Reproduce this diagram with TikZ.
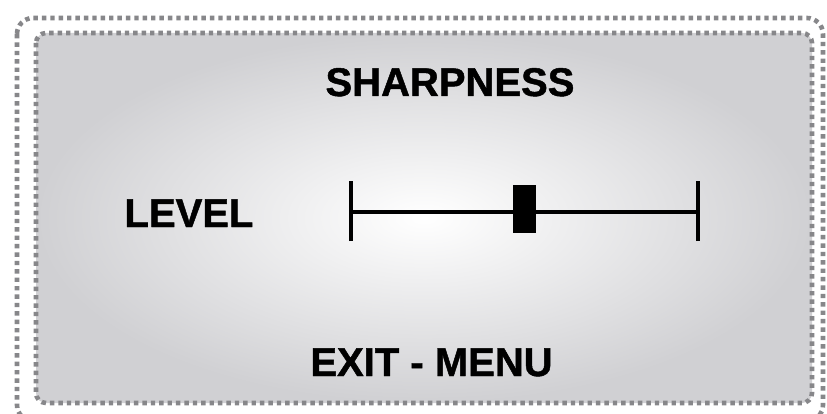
\documentclass[tikz,border=0pt]{standalone}
\usepackage{fontspec}
\setmainfont{Liberation Sans}[BoldFeatures={FakeBold=1.2}]
\begin{document}
\begin{tikzpicture}[x=1pt,y=-1pt,
  dotframe/.style={draw={rgb,255:red,135;green,135;blue,138}, line width=4.6pt, dash pattern=on 4.4pt off 4pt, line cap=butt},
  label/.style={font=\bfseries\fontsize{40}{44}\selectfont, inner sep=0pt, anchor=base},
  bar/.style={line width=3.6pt, black}]
\useasboundingbox (0,0) rectangle (827,414);
\fill[white] (0,0) rectangle (827,414);
\draw[dotframe, rounded corners=16pt] (17,18) rectangle (823,421);
\shade[inner color=white, outer color={rgb,255:red,208;green,208;blue,211}, rounded corners=10pt] (36,33) rectangle (812,403);
\draw[dotframe, rounded corners=10pt] (36,33) rectangle (812,403);
\node[label] (title) at (450,96) {SHARPNESS};
\node[label] (level) at (189,227) {LEVEL};
\node[label] (exit) at (431.5,376) {EXIT - MENU};
\coordinate (l) at (351,212);
\coordinate (r) at (698,212);
\draw[bar] (l) -- (r);
\draw[bar] ([yshift=-29pt]l) -- ([yshift=31pt]l);
\draw[bar] ([yshift=-29pt]r) -- ([yshift=31pt]r);
\node[fill=black, minimum width=23pt, minimum height=48pt, inner sep=0pt] (thumb) at (524.5,209) {};
\end{tikzpicture}
\end{document}
